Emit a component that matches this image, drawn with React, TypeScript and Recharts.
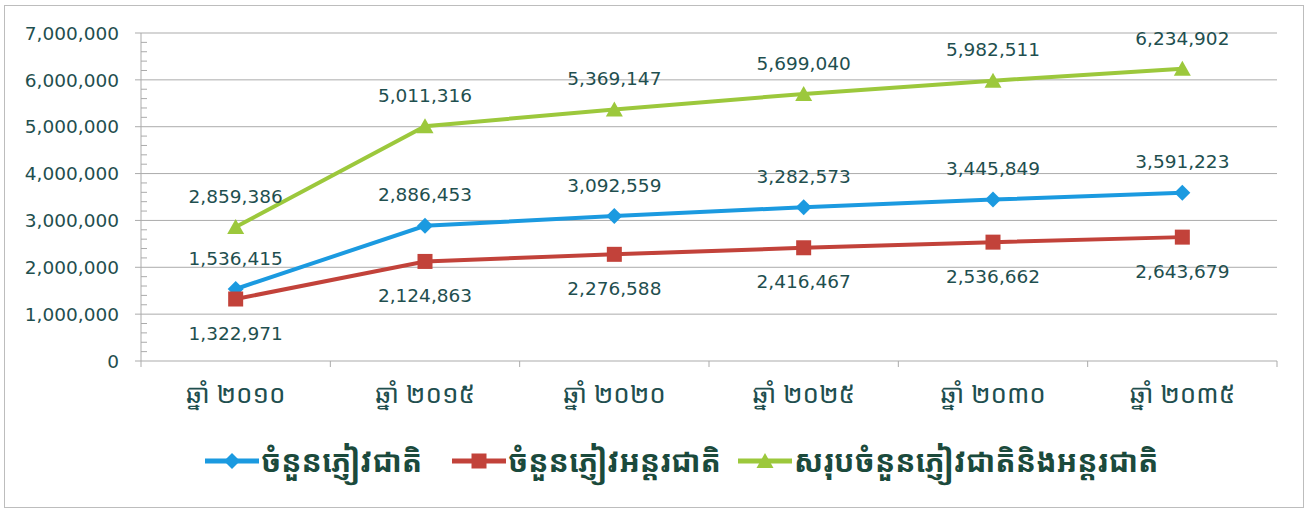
import React from 'react';
import { LineChart, Line, XAxis, YAxis, ReferenceLine, LabelList } from 'recharts';

const categories = ['ឆ្នាំ ២០១០', 'ឆ្នាំ ២០១៥', 'ឆ្នាំ ២០២០', 'ឆ្នាំ ២០២៥', 'ឆ្នាំ ២០៣០', 'ឆ្នាំ ២០៣៥'];
const domestic = [1536415, 2886453, 3092559, 3282573, 3445849, 3591223];
const international = [1322971, 2124863, 2276588, 2416467, 2536662, 2643679];
const total = [2859386, 5011316, 5369147, 5699040, 5982511, 6234902];
const seriesNames = ['ចំនួនភ្ញៀវជាតិ', 'ចំនួនភ្ញៀវអន្តរជាតិ', 'សរុបចំនួនភ្ញៀវជាតិនិងអន្តរជាតិ'];
const majorTicks = [0, 1000000, 2000000, 3000000, 4000000, 5000000, 6000000, 7000000];
const allTicks = [
  0, 200000, 400000, 600000, 800000,
  1000000, 1200000, 1400000, 1600000, 1800000,
  2000000, 2200000, 2400000, 2600000, 2800000,
  3000000, 3200000, 3400000, 3600000, 3800000,
  4000000, 4200000, 4400000, 4600000, 4800000,
  5000000, 5200000, 5400000, 5600000, 5800000,
  6000000, 6200000, 6400000, 6600000, 6800000,
  7000000,
];

const data = categories.map((c, i) => ({
  name: c,
  domestic: domestic[i],
  international: international[i],
  total: total[i],
}));

const W = 1308;
const H = 510;
const PLOT_LEFT = 141;
const PLOT_RIGHT = 1277;
const PLOT_TOP = 33;
const PLOT_BOTTOM = 361;
const X_AXIS_H = 60;
const BAND = (PLOT_RIGHT - PLOT_LEFT) / categories.length;

const BLUE = '#1B9AE0';
const RED = '#C2423A';
const GREEN = '#9CC83C';
const TEXT = '#1F4F4F';
const LEGEND_TEXT = '#1B4A3C';
const GRID = '#ABABAB';
const NUM_FONT = '"DejaVu Sans", Verdana, sans-serif';
const KH_FONT = '"Khmer OS", "Noto Sans Khmer", "Khmer OS System", "DejaVu Sans", sans-serif';
const NUM_SIZE = 18.5;

const fmt = (v: number) => v.toLocaleString('en-US');

const YTick = (props: any) => {
  const { x, y, payload } = props;
  const v = payload.value as number;
  if (majorTicks.includes(v)) {
    return (
      <g>
        <line x1={x - 6} x2={x} y1={y} y2={y} stroke={GRID} strokeWidth={1} />
        <text x={x - 22} y={y} dy="0.36em" textAnchor="end" fill={TEXT} fontSize={NUM_SIZE} fontFamily={NUM_FONT}>
          {fmt(v)}
        </text>
      </g>
    );
  }
  return <line x1={x} x2={x + 6} y1={y} y2={y} stroke={GRID} strokeWidth={1} />;
};

const XTick = (props: any) => {
  const { x, y, payload, index } = props;
  const last = index === categories.length - 1;
  return (
    <g>
      <line x1={x - BAND / 2} x2={x - BAND / 2} y1={y} y2={y + 6} stroke={GRID} />
      {last && <line x1={x + BAND / 2} x2={x + BAND / 2} y1={y} y2={y + 6} stroke={GRID} />}
      <text x={x} y={y + 33} dy="0.36em" textAnchor="middle" fill={TEXT} fontSize={26} fontFamily={KH_FONT}>
        {payload.value}
      </text>
    </g>
  );
};

const Diamond = ({ cx, cy, color }: any) => (
  <polygon points={`${cx - 8},${cy} ${cx},${cy - 8} ${cx + 8},${cy} ${cx},${cy + 8}`} fill={color} />
);
const Square = ({ cx, cy, color }: any) => (
  <rect x={cx - 7.5} y={cy - 7.5} width={15} height={15} fill={color} />
);
const Triangle = ({ cx, cy, color }: any) => (
  <polygon points={`${cx - 8.5},${cy + 7} ${cx},${cy - 8} ${cx + 8.5},${cy + 7}`} fill={color} />
);

const makeLabel = (offset: number) => (p: any) => {
  const { x, y, value } = p;
  return (
    <text x={x} y={y + offset} dy="0.36em" textAnchor="middle" fill={TEXT} fontSize={NUM_SIZE} fontFamily={NUM_FONT}>
      {fmt(value)}
    </text>
  );
};

const legendItems = [
  { name: seriesNames[0], color: BLUE, shape: 'diamond', left: 205 },
  { name: seriesNames[1], color: RED, shape: 'square', left: 452 },
  { name: seriesNames[2], color: GREEN, shape: 'triangle', left: 738 },
];

const LegendBlock = () => (
  <div style={{ position: 'absolute', left: 0, top: 441, width: W, height: 40 }}>
    {legendItems.map((it) => (
      <div key={it.name} style={{ position: 'absolute', left: it.left, top: 0, display: 'flex', alignItems: 'center', height: 40 }}>
        <svg width={54} height={20}>
          <line x1={0} x2={54} y1={10} y2={10} stroke={it.color} strokeWidth={5} />
          {it.shape === 'diamond' && <Diamond cx={27} cy={10} color={it.color} />}
          {it.shape === 'square' && <Square cx={27} cy={10} color={it.color} />}
          {it.shape === 'triangle' && <Triangle cx={27} cy={10} color={it.color} />}
        </svg>
        <span style={{ fontFamily: KH_FONT, fontWeight: 'bold', fontSize: 30, color: LEGEND_TEXT, marginLeft: 2, whiteSpace: 'nowrap', lineHeight: '40px' }}>
          {it.name}
        </span>
      </div>
    ))}
  </div>
);

export default function App() {
  return (
    <div style={{ position: 'absolute', left: 0, top: 0, width: W, height: H, background: '#fff' }}>
      <div
        style={{
          position: 'absolute',
          left: 4,
          top: 5,
          width: 1300,
          height: 503,
          border: '1px solid #BDBDBD',
          boxSizing: 'border-box',
        }}
      />
      <div style={{ position: 'absolute', left: 0, top: 0 }}>
        <LineChart
          width={W}
          height={H}
          data={data}
          margin={{ top: PLOT_TOP, right: W - PLOT_RIGHT, bottom: H - PLOT_BOTTOM - X_AXIS_H, left: 0 }}
        >
          {majorTicks.slice(1).map((v) => (
            <ReferenceLine key={v} y={v} stroke={GRID} strokeWidth={1} />
          ))}
          <XAxis
            dataKey="name"
            axisLine={{ stroke: GRID }}
            tickLine={false}
            tickSize={0}
            tickMargin={0}
            tick={<XTick />}
            interval={0}
            height={X_AXIS_H}
            padding={{ left: BAND / 2, right: BAND / 2 }}
          />
          <YAxis
            width={PLOT_LEFT}
            domain={[0, 7000000]}
            ticks={allTicks}
            interval={0}
            axisLine={{ stroke: GRID }}
            tickLine={false}
            tickSize={0}
            tickMargin={0}
            tick={<YTick />}
          />
          <Line
            name={seriesNames[0]}
            dataKey="domestic"
            stroke={BLUE}
            strokeWidth={4}
            isAnimationActive={false}
            dot={(p: any) => <Diamond key={`d${p.index}`} cx={p.cx} cy={p.cy} color={BLUE} />}
            activeDot={false}
          >
            <LabelList dataKey="domestic" content={makeLabel(-31)} />
          </Line>
          <Line
            name={seriesNames[1]}
            dataKey="international"
            stroke={RED}
            strokeWidth={4}
            isAnimationActive={false}
            dot={(p: any) => <Square key={`s${p.index}`} cx={p.cx} cy={p.cy} color={RED} />}
            activeDot={false}
          >
            <LabelList dataKey="international" content={makeLabel(34)} />
          </Line>
          <Line
            name={seriesNames[2]}
            dataKey="total"
            stroke={GREEN}
            strokeWidth={4}
            isAnimationActive={false}
            dot={(p: any) => <Triangle key={`t${p.index}`} cx={p.cx} cy={p.cy} color={GREEN} />}
            activeDot={false}
          >
            <LabelList dataKey="total" content={makeLabel(-31)} />
          </Line>
        </LineChart>
      </div>
      <LegendBlock />
    </div>
  );
}
